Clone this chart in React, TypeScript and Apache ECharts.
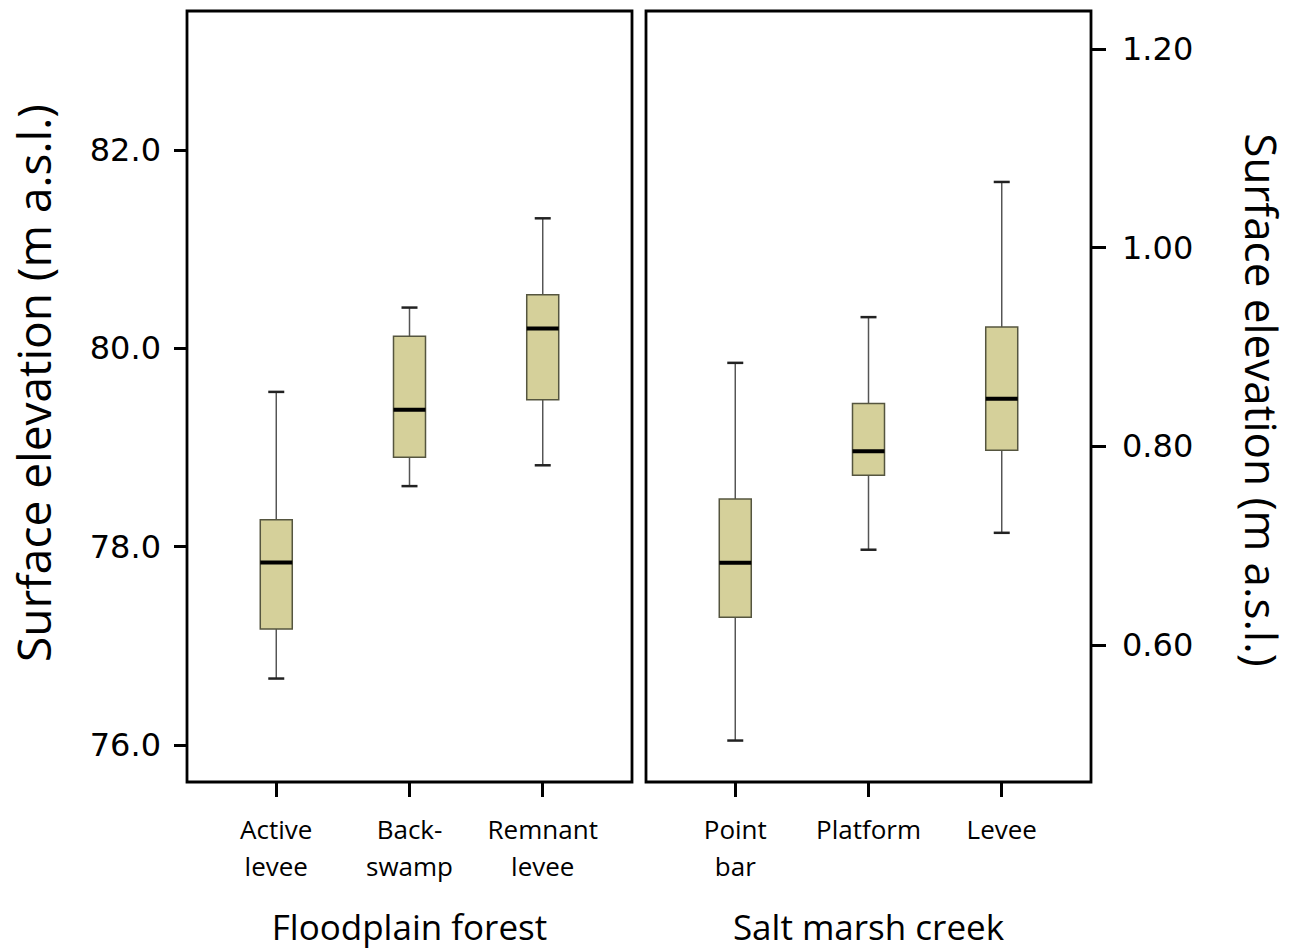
import React, { useEffect, useRef } from "react";
import * as echarts from "echarts";

// Floodplain forest (left axis, m a.s.l.)
const forestCategories = ["Active\nlevee", "Back-\nswamp", "Remnant\nlevee"];
const forestLow = [76.67, 78.61, 78.82];
const forestQ1 = [77.17, 78.9, 79.48];
const forestMedian = [77.84, 79.38, 80.2];
const forestQ3 = [78.27, 80.12, 80.54];
const forestHigh = [79.56, 80.41, 81.31];
const forestTicks = [76, 78, 80, 82];

// Salt marsh creek (right axis, m a.s.l.)
const marshCategories = ["Point\nbar", "Platform", "Levee"];
const marshLow = [0.504, 0.696, 0.713];
const marshQ1 = [0.628, 0.771, 0.796];
const marshMedian = [0.683, 0.795, 0.848];
const marshQ3 = [0.747, 0.843, 0.92];
const marshHigh = [0.884, 0.93, 1.066];
const marshTicks = [0.6, 0.8, 1.0, 1.2];

const groupNames = ["Floodplain forest", "Salt marsh creek"];
const yTitle = "Surface elevation (m a.s.l.)";

const catPositions = [0, 1, 2];

const buildData = (low: number[], q1: number[], med: number[], q3: number[], high: number[]) =>
  low.map((_, i) => [catPositions[i], low[i], q1[i], med[i], q3[i], high[i]]);

const renderBox = (params: any, api: any) => {
  const x = api.value(0);
  const pLow = api.coord([x, api.value(1)]);
  const pQ1 = api.coord([x, api.value(2)]);
  const pMed = api.coord([x, api.value(3)]);
  const pQ3 = api.coord([x, api.value(4)]);
  const pHigh = api.coord([x, api.value(5)]);
  const cx = pLow[0];
  const halfW = 16;
  const capHalf = 8;
  const whisker = { stroke: "#555555", lineWidth: 1.5 };
  const cap = { stroke: "#222222", lineWidth: 2.5 };
  return {
    type: "group",
    children: [
      { type: "line", shape: { x1: cx, y1: pHigh[1], x2: cx, y2: pQ3[1] }, style: whisker },
      { type: "line", shape: { x1: cx, y1: pQ1[1], x2: cx, y2: pLow[1] }, style: whisker },
      { type: "line", shape: { x1: cx - capHalf, y1: pHigh[1], x2: cx + capHalf, y2: pHigh[1] }, style: cap },
      { type: "line", shape: { x1: cx - capHalf, y1: pLow[1], x2: cx + capHalf, y2: pLow[1] }, style: cap },
      {
        type: "rect",
        shape: { x: cx - halfW, y: pQ3[1], width: halfW * 2, height: pQ1[1] - pQ3[1] },
        style: { fill: "#d5d09a", stroke: "#55553f", lineWidth: 1.5 },
      },
      {
        type: "line",
        shape: { x1: cx - halfW, y1: pMed[1], x2: cx + halfW, y2: pMed[1] },
        style: { stroke: "#000000", lineWidth: 4 },
      },
    ],
  };
};

const tickFont = "'DejaVu Sans', sans-serif";
const textFont = "'Open Sans', sans-serif";

export default function App() {
  const ref = useRef<HTMLDivElement>(null);

  useEffect(() => {
    document.body.style.margin = "0";
    if (!ref.current) return;
    const chart = echarts.init(ref.current, undefined, { renderer: "svg" });

    const xAxisCommon = (cats: string[], name: string, gridIndex: number) => ({
      type: "value",
      gridIndex,
      min: -0.67,
      max: 2.67,
      name,
      nameLocation: "middle",
      nameGap: 127,
      nameTextStyle: { fontFamily: textFont, fontSize: 35, color: "#000" },
      axisLine: { show: false, onZero: false },
      splitLine: { show: false },
      axisTick: {
        show: true,
        customValues: catPositions,
        length: 15,
        lineStyle: { color: "#000", width: 3 },
      },
      axisLabel: {
        customValues: catPositions,
        margin: 28,
        fontFamily: textFont,
        fontSize: 26,
        lineHeight: 37,
        color: "#000",
        formatter: (v: number) => cats[Math.round(v)] ?? "",
      },
    });

    chart.setOption({
      animation: false,
      backgroundColor: "#ffffff",
      grid: [
        { left: 187, top: 11, width: 445, height: 772, show: true, borderColor: "#000", borderWidth: 2.8, containLabel: false },
        { left: 646, top: 11, width: 445, height: 772, show: true, borderColor: "#000", borderWidth: 2.8, containLabel: false },
      ],
      xAxis: [
        xAxisCommon(forestCategories, groupNames[0], 0),
        xAxisCommon(marshCategories, groupNames[1], 1),
      ],
      yAxis: [
        {
          type: "value",
          gridIndex: 0,
          position: "left",
          min: 75.627,
          max: 83.4,
          axisLine: { show: false, onZero: false },
          splitLine: { show: false },
          axisTick: { show: true, customValues: forestTicks, length: 13, lineStyle: { color: "#000", width: 3 } },
          axisLabel: {
            customValues: forestTicks,
            margin: 26,
            fontFamily: tickFont,
            fontSize: 32,
            color: "#000",
            formatter: (v: number) => v.toFixed(1),
          },
        },
        {
          type: "value",
          gridIndex: 1,
          position: "right",
          min: 0.4623,
          max: 1.238,
          axisLine: { show: false, onZero: false },
          splitLine: { show: false },
          axisTick: { show: true, customValues: marshTicks, length: 15, lineStyle: { color: "#000", width: 3 } },
          axisLabel: {
            customValues: marshTicks,
            margin: 31,
            fontFamily: tickFont,
            fontSize: 32,
            color: "#000",
            formatter: (v: number) => v.toFixed(2),
          },
        },
      ],
      series: [
        {
          type: "custom",
          xAxisIndex: 0,
          yAxisIndex: 0,
          renderItem: renderBox,
          encode: { x: 0, y: [1, 5] },
          data: buildData(forestLow, forestQ1, forestMedian, forestQ3, forestHigh),
        },
        {
          type: "custom",
          xAxisIndex: 1,
          yAxisIndex: 1,
          renderItem: renderBox,
          encode: { x: 0, y: [1, 5] },
          data: buildData(marshLow, marshQ1, marshMedian, marshQ3, marshHigh),
        },
      ],
      graphic: [
        {
          type: "text",
          x: 33,
          y: 383,
          rotation: Math.PI / 2,
          style: {
            text: yTitle,
            font: `46px ${textFont}`,
            fill: "#000",
            align: "center",
            verticalAlign: "middle",
          },
        },
        {
          type: "text",
          x: 1262,
          y: 400,
          rotation: -Math.PI / 2,
          style: {
            text: yTitle,
            font: `44px ${textFont}`,
            fill: "#000",
            align: "center",
            verticalAlign: "middle",
          },
        },
      ],
    });

    return () => chart.dispose();
  }, []);

  return <div ref={ref} style={{ width: 1296, height: 949 }} />;
}
